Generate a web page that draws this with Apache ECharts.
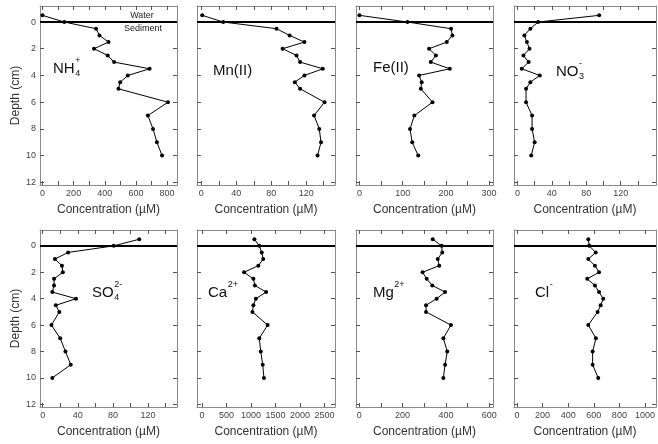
<!DOCTYPE html>
<html>
<head>
<meta charset="utf-8">
<script src="https://cdn.jsdelivr.net/npm/echarts@6/dist/echarts.min.js"></script>
<style>
html, body { margin: 0; padding: 0; background: #fff; }
#main { width: 658px; height: 444px; }
</style>
</head>
<body>
<div id="main"></div>
<script>
// sample depths (cm), negative = overlying water
var depth = [-0.5, 0, 0.5, 1, 1.5, 2, 2.5, 3, 3.5, 4, 4.5, 5, 6, 7, 8, 9, 10];

// porewater concentrations (uM), one value per depth
var nh4 = [0, 140, 344, 366, 424, 331, 419, 460, 688, 548, 499, 488, 806, 677, 710, 735, 768];
var mn  = [1, 25, 86, 101, 118, 93, 109, 113, 139, 118, 107, 113, 141, 129, 135, 137, 133];
var fe  = [0, 111, 212, 215, 202, 161, 177, 165, 209, 138, 144, 142, 169, 127, 117, 122, 136];
var no3 = [95, 24, 15, 8, 11, 14, 7, 13, 5, 26, 15, 10, 10, 17, 17, 20, 16];
var so4 = [110, 81, 29, 14, 22, 23, 13, 13, 11, 38, 15, 19, 10, 20, 26, 32, 11];
var ca  = [1070, 1170, 1220, 1250, 1150, 860, 1050, 1080, 1310, 1100, 1050, 1030, 1340, 1170, 1200, 1240, 1265];
var mg  = [339, 380, 383, 362, 369, 292, 311, 337, 396, 357, 308, 308, 423, 388, 406, 396, 388];
var cl  = [557, 565, 615, 557, 609, 641, 549, 609, 641, 674, 654, 630, 557, 617, 591, 591, 635];

// tick labels
var depthTicks = [0, 2, 4, 6, 8, 10, 12];
var nh4Ticks = [0, 200, 400, 600, 800];
var mnTicks  = [0, 40, 80, 120];
var feTicks  = [0, 100, 200, 300];
var no3Ticks = [0, 40, 80, 120];
var so4Ticks = [0, 40, 80, 120];
var caTicks  = [0, 500, 1000, 1500, 2000, 2500];
var mgTicks  = [0, 200, 400, 600];
var clTicks  = [0, 200, 400, 600, 800, 1000];

var font = 'Liberation Sans';

function halfSteps(t) {
  // major ticks plus one minor tick between each
  var out = [], d = t[1] - t[0];
  for (var v = t[0]; v <= t[t.length - 1] + d / 2 + 1e-9; v += d / 2) out.push(v);
  return out;
}

var panels = [
  { vals: nh4, ticks: nh4Ticks, minor: true,  min: -16, max: 864,  left: 40,  top: 6,   w: 137, h: 179 },
  { vals: mn,  ticks: mnTicks,  minor: true,  min: -5,  max: 153,  left: 197, top: 6,   w: 138, h: 179 },
  { vals: fe,  ticks: feTicks,  minor: true,  min: -8,  max: 309,  left: 356, top: 6,   w: 137, h: 179 },
  { vals: no3, ticks: no3Ticks, minor: true,  min: -4,  max: 161,  left: 514, top: 6,   w: 142, h: 179 },
  { vals: so4, ticks: so4Ticks, minor: true,  min: -3,  max: 153,  left: 40,  top: 230, w: 137, h: 177 },
  { vals: ca,  ticks: caTicks,  minor: false, min: -100, max: 2714, left: 197, top: 230, w: 138, h: 177 },
  { vals: mg,  ticks: mgTicks,  minor: true,  min: -15, max: 617,  left: 356, top: 230, w: 137, h: 177 },
  { vals: cl,  ticks: clTicks,  minor: false, min: -23, max: 1086, left: 514, top: 230, w: 142, h: 177 }
];

var grids = [], xAxes = [], yAxes = [], series = [];
panels.forEach(function (p, i) {
  var first = (i % 4 === 0);
  var tickVals = p.minor ? halfSteps(p.ticks) : p.ticks;
  grids.push({ left: p.left, top: p.top, width: p.w, height: p.h, outerBoundsMode: 'none' });

  var axLine = { show: true, onZero: false, lineStyle: { color: '#8a8a8a', width: 1 } };
  var xTick = { show: true, inside: true, length: 4, customValues: tickVals, lineStyle: { color: '#555' } };
  xAxes.push({
    gridIndex: i, type: 'value', position: 'bottom', min: p.min, max: p.max,
    axisLine: axLine, axisTick: xTick, splitLine: { show: false },
    axisLabel: { customValues: p.ticks, fontSize: 9, color: '#444', margin: 4, fontFamily: font,
                 formatter: function (v) { return String(v); } },
    name: 'Concentration (\u00b5M)', nameLocation: 'middle', nameGap: 19,
    nameTextStyle: { fontSize: 12, color: '#333', fontFamily: font }
  });
  xAxes.push({
    gridIndex: i, type: 'value', position: 'top', min: p.min, max: p.max,
    axisLine: axLine, axisTick: xTick, splitLine: { show: false },
    axisLabel: { show: false }
  });

  var yTick = { show: true, inside: true, length: 4, customValues: depthTicks, lineStyle: { color: '#555' } };
  yAxes.push({
    gridIndex: i, type: 'value', position: 'left', inverse: true, min: -1.2, max: 12.2,
    axisLine: axLine, axisTick: yTick, splitLine: { show: false },
    axisLabel: { show: first, customValues: depthTicks, fontSize: 9, color: '#444', margin: 4, fontFamily: font },
    name: first ? 'Depth (cm)' : '', nameLocation: 'middle', nameGap: 14, nameRotate: 90,
    nameTextStyle: { fontSize: 12, color: '#333', fontFamily: font }
  });
  yAxes.push({
    gridIndex: i, type: 'value', position: 'right', inverse: true, min: -1.2, max: 12.2,
    axisLine: axLine, axisTick: yTick, splitLine: { show: false },
    axisLabel: { show: false }
  });

  series.push({
    type: 'line', xAxisIndex: 2 * i, yAxisIndex: 2 * i,
    data: p.vals.map(function (v, k) { return [v, depth[k]]; }),
    symbol: 'circle', symbolSize: 4, showSymbol: true,
    lineStyle: { color: '#000', width: 1 }, itemStyle: { color: '#000' },
    animation: false, silent: true,
    markLine: {
      silent: true, symbol: ['none', 'none'], label: { show: false },
      lineStyle: { color: '#000', width: 2, type: 'solid' },
      data: [{ yAxis: 0 }], animation: false
    }
  });
});

// measure text so the super/subscripts sit right after the base text
var ctx = document.createElement('canvas').getContext('2d');
function textW(s, size) {
  ctx.font = size + 'px ' + font;
  return ctx.measureText(s).width;
}
function txt(x, y, s, size) {
  return { type: 'text', x: x, y: y, style: { text: s, fontSize: size, fontFamily: font, fill: '#111', verticalAlign: 'middle' } };
}
// base text, superscript, subscript
function chem(x, y, base, sup, sub) {
  var out = [txt(x, y, base, 15)];
  var x2 = x + textW(base, 15) + 0.5;
  if (sup) out.push(txt(x2, y - 8, sup, 9));
  if (sub) out.push(txt(x2, y + 5, sub, 9));
  return out;
}

var graphics = [].concat(
  chem(53, 69, 'NH', '+', '4'),
  [txt(213, 71, 'Mn(II)', 15)],
  [txt(373, 68, 'Fe(II)', 15)],
  chem(556, 72, 'NO', '-', '3'),
  chem(92, 293, 'SO', '2-', '4'),
  chem(208, 293, 'Ca', '2+', null),
  chem(373, 293, 'Mg', '2+', null),
  chem(535, 293, 'Cl', '-', null),
  [
    { type: 'text', x: 142, y: 16, style: { text: 'Water', fontSize: 9, fontFamily: font, fill: '#222', align: 'center', verticalAlign: 'middle' } },
    { type: 'text', x: 143, y: 29, style: { text: 'Sediment', fontSize: 9, fontFamily: font, fill: '#222', align: 'center', verticalAlign: 'middle' } }
  ]
);

var myChart = echarts.init(document.getElementById('main'));
myChart.setOption({
  animation: false,
  backgroundColor: '#fff',
  grid: grids,
  xAxis: xAxes,
  yAxis: yAxes,
  series: series,
  graphic: graphics
});
</script>
</body>
</html>
